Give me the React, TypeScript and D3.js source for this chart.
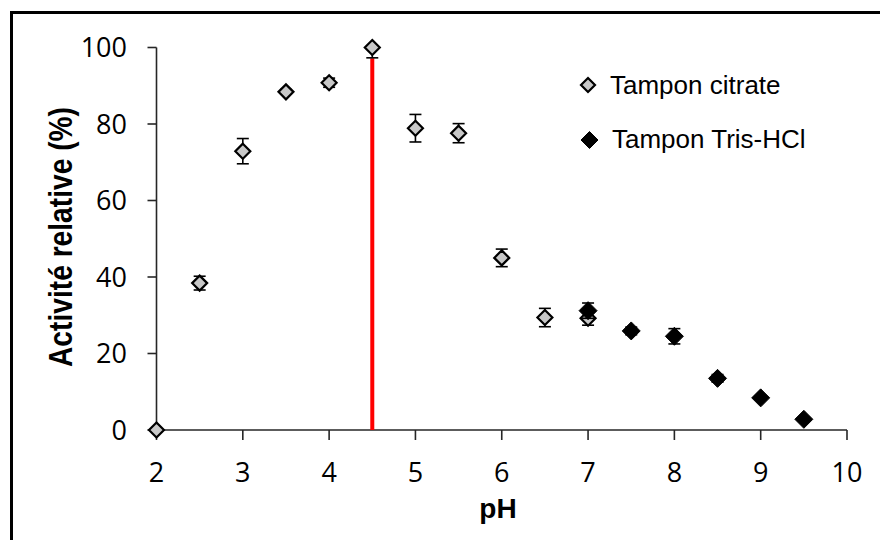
import React from "react";
import * as d3 from "d3";

const citratePH = [2, 2.5, 3, 3.5, 4, 4.5, 5, 5.5, 6, 6.5, 7];
const citrateAct = [0, 38.4, 72.9, 88.4, 90.8, 100, 78.9, 77.6, 45, 29.4, 29.2];
const citrateErr = [0, 1.8, 3.3, 0.6, 1.2, 2.7, 3.6, 2.5, 2.3, 2.4, 1.8];

const trisPH = [7, 7.5, 8, 8.5, 9, 9.5];
const trisAct = [31.2, 25.9, 24.5, 13.5, 8.4, 2.8];
const trisErr = [2, 1, 2, 1, 0.5, 0.5];

const xTicks = [2, 3, 4, 5, 6, 7, 8, 9, 10];
const yTicks = [0, 20, 40, 60, 80, 100];
const optimumPH = 4.5;
const optimumTop = 97.2;

const legendLabels = ["Tampon citrate", "Tampon Tris-HCl"];

const W = 880;
const H = 540;

export default function App() {
  const x = d3.scaleLinear().domain([2, 10]).range([156.5, 847]);
  const y = d3.scaleLinear().domain([0, 100]).range([430, 47.5]);
  const diamond = (cx: number, cy: number, r: number) =>
    `M${cx},${cy - r}L${cx + r},${cy}L${cx},${cy + r}L${cx - r},${cy}Z`;

  const errBar = (px: number, v: number, e: number, key: string) => {
    if (e <= 0) return null;
    const lo = Math.max(0, v - e);
    const hi = Math.min(100, v + e);
    const cx = x(px);
    return (
      <g key={key} stroke="#000" strokeWidth={1.6}>
        <line x1={cx} x2={cx} y1={y(lo)} y2={y(hi)} />
        {v - e >= 0 && <line x1={cx - 6} x2={cx + 6} y1={y(lo)} y2={y(lo)} />}
        {v + e <= 100 && <line x1={cx - 6} x2={cx + 6} y1={y(hi)} y2={y(hi)} />}
      </g>
    );
  };

  const tickFont = "'Open Sans', sans-serif";
  const arial = "'Liberation Sans', Arial, sans-serif";

  return (
    <svg
      width={W}
      height={H}
      style={{ position: "absolute", left: 0, top: 0, background: "#fff" }}
    >
      <rect x={0} y={0} width={W} height={H} fill="#fff" />
      <rect x={11.5} y={12.5} width={W + 20} height={H + 20} fill="none" stroke="#000" strokeWidth={3} />

      {/* axes */}
      <g stroke="#262626" strokeWidth={1.6}>
        <line x1={x(2)} x2={x(2)} y1={y(0)} y2={y(100)} />
        <line x1={x(2)} x2={x(10)} y1={y(0)} y2={y(0)} />
        {yTicks.map((t) => (
          <line key={"yt" + t} x1={x(2) - 9} x2={x(2)} y1={y(t)} y2={y(t)} />
        ))}
        {xTicks.map((t) => (
          <line key={"xt" + t} x1={x(t)} x2={x(t)} y1={y(0)} y2={y(0) + 10} />
        ))}
      </g>
      {yTicks.map((t) => (
        <text
          key={"yl" + t}
          x={127}
          y={y(t) + 9.5}
          textAnchor="end"
          fontFamily={tickFont}
          fontSize={27}
          fill="#000"
        >
          {t}
        </text>
      ))}
      {xTicks.map((t) => (
        <text
          key={"xl" + t}
          x={x(t)}
          y={482}
          textAnchor="middle"
          fontFamily={tickFont}
          fontSize={27}
          fill="#000"
        >
          {t}
        </text>
      ))}

      {/* axis titles */}
      <text
        x={498}
        y={518}
        textAnchor="middle"
        fontFamily={arial}
        fontWeight="bold"
        fontSize={28}
        fill="#000"
      >
        pH
      </text>
      <text
        transform="translate(72,237) rotate(-90)"
        textAnchor="middle"
        fontFamily={arial}
        fontWeight="bold"
        fontSize={33}
        textLength={260}
        lengthAdjust="spacingAndGlyphs"
        fill="#000"
      >
        Activité relative (%)
      </text>

      {/* optimum line */}
      <line
        x1={x(optimumPH)}
        x2={x(optimumPH)}
        y1={y(0)}
        y2={y(optimumTop)}
        stroke="#ff0000"
        strokeWidth={4}
      />

      {/* citrate series */}
      {citratePH.map((p, i) => errBar(p, citrateAct[i], citrateErr[i], "ce" + i))}
      {citratePH.map((p, i) => (
        <path
          key={"c" + i}
          d={diamond(x(p), y(citrateAct[i]), 7.5)}
          fill="#c8c8c8"
          stroke="#000"
          strokeWidth={2.2}
        />
      ))}

      {/* tris series */}
      {trisPH.map((p, i) => errBar(p, trisAct[i], trisErr[i], "te" + i))}
      {trisPH.map((p, i) => (
        <path key={"t" + i} d={diamond(x(p), y(trisAct[i]), 9)} fill="#000" stroke="#000" strokeWidth={1} />
      ))}

      {/* legend */}
      <path d={diamond(588, 85, 7)} fill="#c8c8c8" stroke="#000" strokeWidth={2.2} />
      <text x={610} y={94} fontFamily={arial} fontSize={26} fill="#000">
        {legendLabels[0]}
      </text>
      <path d={diamond(589.5, 140, 8.5)} fill="#000" stroke="#000" strokeWidth={1} />
      <text x={612} y={148} fontFamily={arial} fontSize={26} fill="#000">
        {legendLabels[1]}
      </text>
    </svg>
  );
}
